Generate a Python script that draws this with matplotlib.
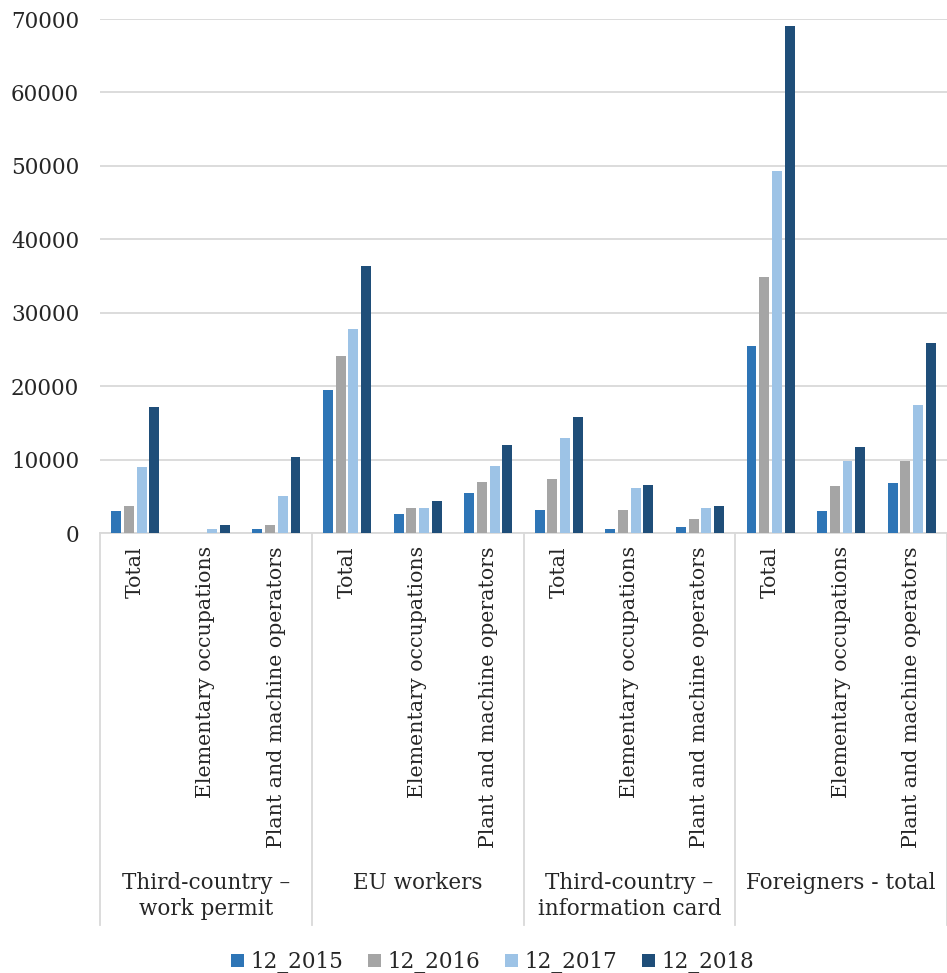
import matplotlib
matplotlib.use("Agg")
import matplotlib.pyplot as plt
import numpy as np
from matplotlib.transforms import blended_transform_factory
from matplotlib.lines import Line2D

plt.rcParams['font.family'] = ['DejaVu Serif']

groups = ["Third-country \u2013\nwork permit", "EU workers",
          "Third-country \u2013\ninformation card", "Foreigners - total"]
subcats = ["Total", "Elementary occupations", "Plant and machine operators"]
series = ["12_2015", "12_2016", "12_2017", "12_2018"]

# rows: group x subcategory (Total, Elementary, Plant)
v2015 = [3000, 0, 500,   19500, 2600, 5400,   3100, 500, 800,    25400, 3050, 6800]
v2016 = [3700, 0, 1100,  24100, 3400, 6900,   7400, 3100, 1900,  34900, 6400, 9800]
v2017 = [9000, 500, 5100, 27800, 3400, 9100,  12900, 6100, 3400, 49300, 9800, 17400]
v2018 = [17200, 1100, 10400, 36400, 4400, 12000, 15800, 6500, 3700, 69000, 11700, 25900]
values = [v2015, v2016, v2017, v2018]
colors = ["#2E75B6", "#A5A5A5", "#9DC3E6", "#1F4E79"]

W, H = 947, 973
fig = plt.figure(figsize=(W / 100, H / 100), dpi=100)
ax_left, ax_right, ax_top, ax_bot = 100, 947, 19, 533
ax = fig.add_axes([ax_left / W, 1 - ax_bot / H, (ax_right - ax_left) / W, (ax_bot - ax_top) / H])

n = len(v2015)
x = np.arange(n)
pitch = 0.18
bw = 0.14
for i, (vals, c, lab) in enumerate(zip(values, colors, series)):
    ax.bar(x + (i - 1.5) * pitch, vals, width=bw, color=c, label=lab, zorder=3)

ax.set_xlim(-0.5, n - 0.5)
ax.set_ylim(0, 70000)
ax.set_yticks(np.arange(0, 70001, 10000))
ax.set_yticklabels([str(v) for v in range(0, 70001, 10000)], fontsize=15.5, color="#262626")
ax.tick_params(axis="y", length=0, pad=15)
ax.set_xticks([])
ax.grid(axis="y", color="#D9D9D9", linewidth=1.3, zorder=0)
for s in ["top", "right", "left"]:
    ax.spines[s].set_visible(False)
ax.spines["bottom"].set_color("#D9D9D9")
ax.spines["bottom"].set_linewidth(1.3)

axh = ax_bot - ax_top
trans = blended_transform_factory(ax.transData, ax.transAxes)

def ay(py):
    return -(py - ax_bot) / axh

# category labels
for k in range(n):
    ax.text(k, ay(546), subcats[k % 3], rotation=90, ha="center", va="top",
            fontsize=14.8, color="#262626", transform=trans)

# group labels
for g, name in enumerate(groups):
    ax.text(g * 3 + 1, ay(872), name, ha="center", va="top", fontsize=15.5,
            color="#262626", transform=trans, linespacing=1.25)

# group separators
for g in range(5):
    xs = g * 3 - 0.5
    ax.add_line(Line2D([xs, xs], [0, ay(925)], color="#D9D9D9", linewidth=1.3,
                       transform=trans, clip_on=False))

fig.legend(loc="center", bbox_to_anchor=(0.52, 1 - 962 / H), ncol=4, frameon=False,
           fontsize=15.5, handlelength=0.6, handleheight=0.6, handletextpad=0.3,
           columnspacing=1.15, labelcolor="#262626")

fig.savefig("out.png", dpi=100)
